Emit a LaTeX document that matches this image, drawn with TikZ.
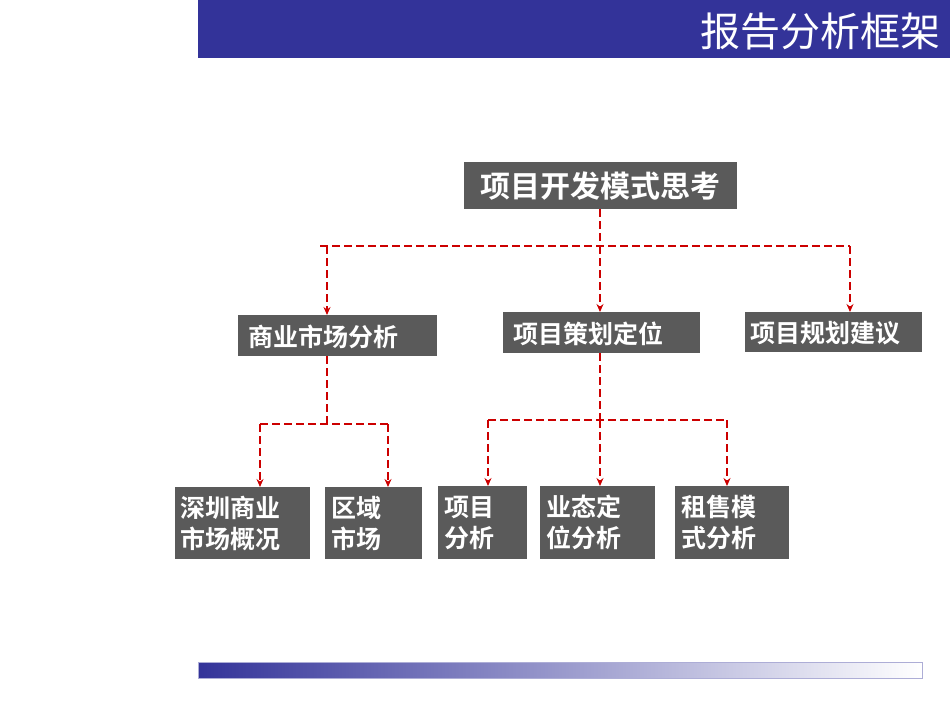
\documentclass[tikz,border=0pt]{standalone}
\usepackage{fontspec}
\setmainfont{Noto Sans CJK SC}
\newfontfamily\cjkb{Noto Sans CJK SC Bold}
\usetikzlibrary{arrows.meta}
\definecolor{hdr}{HTML}{333399}
\definecolor{bx}{HTML}{5A5A5A}
\definecolor{ln}{HTML}{CC0000}
\begin{document}
\begin{tikzpicture}[x=1pt,y=-1pt,
  gbox/.style={fill=bx,text=white,font=\cjkb\fontsize{25}{31}\selectfont,inner sep=0pt,anchor=north west},
  mbox/.style={gbox,text depth=0pt,align=left,inner xsep=10pt},
  dl/.style={draw=ln,line width=1.5pt,dash pattern=on 8pt off 4pt},
  da/.style={dl,-{Stealth[length=8pt,width=7pt]}}]
\useasboundingbox (0,0) rectangle (950,713);
\fill[hdr] (198,0) rectangle (950,58);
\node[text=white,anchor=east,font=\fontsize{40}{46}\selectfont,inner sep=0pt] (title) at (941,31) {报告分析框架};
\shade[left color=hdr,right color=white] (198,662) rectangle (922,678);
\draw[hdr!40,line width=0.5pt] (198,662) rectangle (922,678);
\node[gbox,minimum width=273,minimum height=47,font=\cjkb\fontsize{30}{36}\selectfont] (top) at (464,162) {项目开发模式思考};
\node[mbox,minimum width=199,minimum height=41,text width=179] (a) at (238,315) {商业市场分析};
\node[mbox,minimum width=197,minimum height=41,text width=177] (b) at (503,312) {项目策划定位};
\node[mbox,minimum width=177,minimum height=40,text width=167,inner xsep=5pt] (c) at (745,312) {项目规划建议};
\node[gbox,minimum width=135,minimum height=72,align=left,text width=125,inner xsep=5pt] (a1) at (175,487) {深圳商业\\市场概况};
\node[gbox,minimum width=97,minimum height=72,align=left,text width=85,inner xsep=6pt] (a2) at (325,487) {区域\\市场};
\node[gbox,minimum width=89,minimum height=73,align=left,text width=77,inner xsep=6pt] (b1) at (438,486) {项目\\分析};
\node[gbox,minimum width=115,minimum height=73,align=left,text width=103,inner xsep=6pt] (b2) at (540,486) {业态定\\位分析};
\node[gbox,minimum width=114,minimum height=73,align=left,text width=102,inner xsep=6pt] (b3) at (675,486) {租售模\\式分析};
\coordinate (j1) at (600,246);
\draw[dl] (top.south -| j1) -- (j1);
\draw[dl] (320,246) -- (850,246);
\draw[da] (327,246) -- (a.north -| 327,0);
\draw[da] (j1) -- (b.north -| j1);
\draw[da] (850,246) -- (c.north -| 850,0);
\draw[dl] (a.south -| 327,0) -- (327,424);
\draw[dl] (260,424) -- (388,424);
\draw[da] (260,424) -- (a1.north -| 260,0);
\draw[da] (388,424) -- (a2.north -| 388,0);
\draw[dl] (b.south -| 600,0) -- (600,420);
\draw[dl] (488,420) -- (727,420);
\draw[da] (488,420) -- (b1.north -| 488,0);
\draw[da] (600,420) -- (b2.north -| 600,0);
\draw[da] (727,420) -- (b3.north -| 727,0);
\end{tikzpicture}
\end{document}
